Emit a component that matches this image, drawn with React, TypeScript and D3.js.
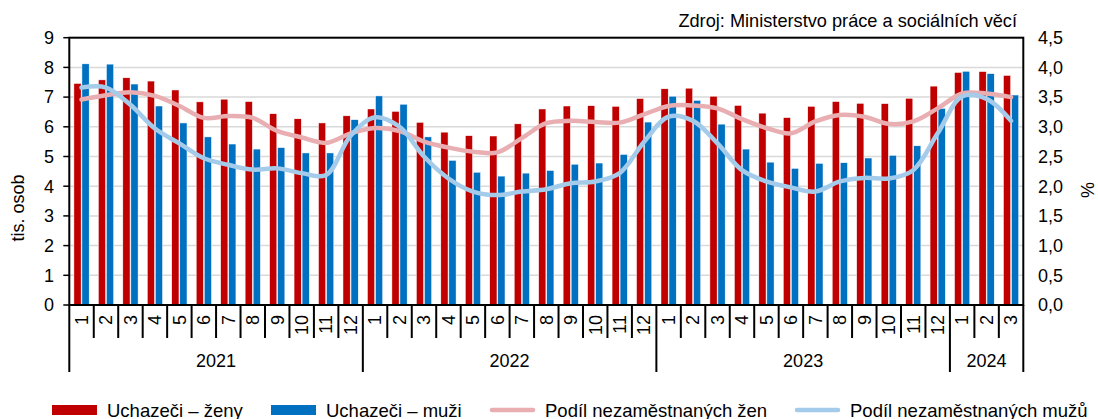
import { useEffect, useRef } from 'react';
import * as d3 from 'd3';

const years = ['2021', '2022', '2023', '2024'];
const monthsPerYear = [12, 12, 12, 3];

// tis. osob
const zeny = [
  7.46, 7.58, 7.65, 7.54, 7.24, 6.84, 6.93, 6.85, 6.44, 6.27, 6.13, 6.37,
  6.60, 6.52, 6.15, 5.82, 5.70, 5.69, 6.10, 6.60, 6.70, 6.71, 6.69, 6.95,
  7.28, 7.30, 7.03, 6.72, 6.46, 6.31, 6.69, 6.85, 6.79, 6.78, 6.96, 7.37,
  7.83, 7.86, 7.73,
];
const muzi = [
  8.12, 8.11, 7.44, 6.70, 6.13, 5.66, 5.42, 5.25, 5.30, 5.12, 5.12, 6.24,
  7.04, 6.76, 5.66, 4.87, 4.47, 4.34, 4.44, 4.53, 4.74, 4.78, 5.07, 6.16,
  7.03, 6.89, 6.09, 5.25, 4.81, 4.60, 4.77, 4.79, 4.95, 5.04, 5.36, 6.62,
  7.87, 7.79, 7.07,
];
// %
const podilZen = [
  3.46, 3.53, 3.58, 3.52, 3.35, 3.15, 3.18, 3.15, 2.93, 2.82, 2.73, 2.89,
  2.98, 2.93, 2.75, 2.65, 2.58, 2.57, 2.81, 3.06, 3.10, 3.08, 3.07, 3.21,
  3.35, 3.36, 3.31, 3.13, 2.98, 2.89, 3.09, 3.20, 3.17, 3.05, 3.09, 3.31,
  3.56, 3.56, 3.50,
];
const podilMuzu = [
  3.66, 3.66, 3.37, 2.97, 2.72, 2.47, 2.36, 2.28, 2.30, 2.22, 2.19, 2.85,
  3.16, 3.00, 2.50, 2.13, 1.91, 1.85, 1.91, 1.95, 2.05, 2.08, 2.22, 2.75,
  3.17, 3.10, 2.72, 2.27, 2.08, 1.98, 1.91, 2.08, 2.14, 2.13, 2.27, 2.89,
  3.51, 3.47, 3.10,
];

const leftTicks = [0, 1, 2, 3, 4, 5, 6, 7, 8, 9];
const rightTicks = [0, 0.5, 1, 1.5, 2, 2.5, 3, 3.5, 4, 4.5];

const seriesNames = ['Uchazeči – ženy', 'Uchazeči – muži', 'Podíl nezaměstnaných žen', 'Podíl nezaměstnaných mužů'];
const colors = ['#C00000', '#0070C0', '#E8AEB2', '#A4CCEA'];

const W = 1098;
const H = 419;
const FONT = '"Liberation Sans", Arial, sans-serif';
const FS = 18;

export default function App() {
  const svgRef = useRef<SVGSVGElement>(null);

  useEffect(() => {
    if (!svgRef.current) return;
    const svg = d3.select(svgRef.current);
    svg.selectAll('*').remove();

    const left = 69.3;
    const right = 1023.3;
    const top = 37.7;
    const bottom = 305;

    const idx = d3.range(zeny.length);
    const monthLabels: string[] = [];
    monthsPerYear.forEach(n => d3.range(1, n + 1).forEach(m => monthLabels.push(String(m))));

    const x = d3.scaleBand<number>().domain(idx).range([left, right]).padding(0);
    const bw = x.bandwidth();
    const x1 = d3.scaleBand<string>().domain(['z', 'm']).range([4.6, bw - 4.6]).paddingInner(0.1);
    const y = d3.scaleLinear().domain([0, 9]).range([bottom, top]);
    const y2 = d3.scaleLinear().domain([0, 4.5]).range([bottom, top]);

    const g = svg.append('g').attr('font-family', FONT).attr('fill', '#000');

    // grid
    g.append('g')
      .selectAll('line')
      .data(leftTicks.filter(t => t > 0 && t < 9))
      .enter().append('line')
      .attr('x1', left).attr('x2', right)
      .attr('y1', d => y(d)).attr('y2', d => y(d))
      .attr('stroke', '#d9d9d9').attr('stroke-width', 1.5);

    // bars
    const bars = g.append('g').attr('stroke', '#ffffff').attr('stroke-width', 0.5);
    bars.selectAll('.z').data(idx).enter().append('rect')
      .attr('x', i => (x(i) || 0) + (x1('z') || 0))
      .attr('y', i => y(zeny[i]))
      .attr('width', x1.bandwidth())
      .attr('height', i => bottom - y(zeny[i]))
      .attr('fill', colors[0]);
    bars.selectAll('.m').data(idx).enter().append('rect')
      .attr('x', i => (x(i) || 0) + (x1('m') || 0))
      .attr('y', i => y(muzi[i]))
      .attr('width', x1.bandwidth())
      .attr('height', i => bottom - y(muzi[i]))
      .attr('fill', colors[1]);

    // lines
    const line = (vals: number[]) => d3.line<number>()
      .x(i => (x(i) || 0) + bw / 2)
      .y(i => y2(vals[i]))
      .curve(d3.curveCatmullRom.alpha(0.5))(idx);

    g.append('path').attr('d', line(podilZen) || '')
      .attr('fill', 'none').attr('stroke', colors[2]).attr('stroke-width', 4.5).attr('stroke-linecap', 'round');
    g.append('path').attr('d', line(podilMuzu) || '')
      .attr('fill', 'none').attr('stroke', colors[3]).attr('stroke-width', 4.5).attr('stroke-linecap', 'round');

    // frame
    g.append('rect')
      .attr('x', left).attr('y', top)
      .attr('width', right - left).attr('height', bottom - top)
      .attr('fill', 'none').attr('stroke', '#000').attr('stroke-width', 2);

    // left axis
    leftTicks.forEach(t => {
      g.append('line').attr('x1', left - 6).attr('x2', left)
        .attr('y1', y(t)).attr('y2', y(t)).attr('stroke', '#000').attr('stroke-width', 1.5);
      g.append('text').attr('x', 54).attr('y', y(t)).attr('dy', '0.35em')
        .attr('text-anchor', 'end').attr('font-size', FS).text(String(t));
    });

    // right axis
    rightTicks.forEach(t => {
      g.append('text').attr('x', 1038).attr('y', y2(t)).attr('dy', '0.35em')
        .attr('text-anchor', 'start').attr('font-size', FS)
        .text(t.toFixed(1).replace('.', ','));
    });

    // x categories
    const sep = g.append('g').attr('stroke', '#000').attr('stroke-width', 2);
    const yearStarts: number[] = [];
    let acc = 0;
    monthsPerYear.forEach(n => { yearStarts.push(acc); acc += n; });
    yearStarts.push(acc);

    d3.range(zeny.length + 1).forEach(i => {
      const xx = i < zeny.length ? (x(i) || 0) : right;
      const isYear = yearStarts.includes(i);
      sep.append('line').attr('x1', xx).attr('x2', xx)
        .attr('y1', bottom).attr('y2', isYear ? 372 : 338);
    });

    idx.forEach(i => {
      const cx = (x(i) || 0) + bw / 2;
      g.append('text')
        .attr('transform', `translate(${cx},315) rotate(-90)`)
        .attr('dy', '0.35em')
        .attr('text-anchor', 'end')
        .attr('font-size', FS)
        .text(monthLabels[i]);
    });

    years.forEach((yr, k) => {
      const x0 = x(yearStarts[k]) || 0;
      const xe = yearStarts[k + 1] < zeny.length ? (x(yearStarts[k + 1]) || 0) : right;
      g.append('text').attr('x', (x0 + xe) / 2).attr('y', 367)
        .attr('text-anchor', 'middle').attr('font-size', FS).text(yr);
    });

    // axis titles
    g.append('text').attr('transform', 'translate(24,208) rotate(-90)')
      .attr('text-anchor', 'middle').attr('font-size', FS).text('tis. osob');
    g.append('text').attr('transform', 'translate(1094,190) rotate(-90)')
      .attr('text-anchor', 'middle').attr('font-size', FS).text('%');

    g.append('text').attr('x', 1017).attr('y', 27)
      .attr('text-anchor', 'end').attr('font-size', 18.2)
      .text('Zdroj: Ministerstvo práce a sociálních věcí');

    // legend
    const legendX = [52, 271, 490, 795];
    seriesNames.forEach((name, k) => {
      const lx = legendX[k];
      if (k < 2) {
        g.append('rect').attr('x', lx).attr('y', 405).attr('width', 45).attr('height', 10)
          .attr('fill', colors[k]);
      } else {
        g.append('line').attr('x1', lx + 2).attr('x2', lx + 43).attr('y1', 410).attr('y2', 410)
          .attr('stroke', colors[k]).attr('stroke-width', 4.5).attr('stroke-linecap', 'round');
      }
      g.append('text').attr('x', lx + 55).attr('y', 416.5)
        .attr('font-size', 18.5).text(name);
    });
  }, []);

  return (
    <svg
      ref={svgRef}
      width={W}
      height={H}
      style={{ position: 'absolute', left: 0, top: 0, background: '#fff' }}
    />
  );
}
